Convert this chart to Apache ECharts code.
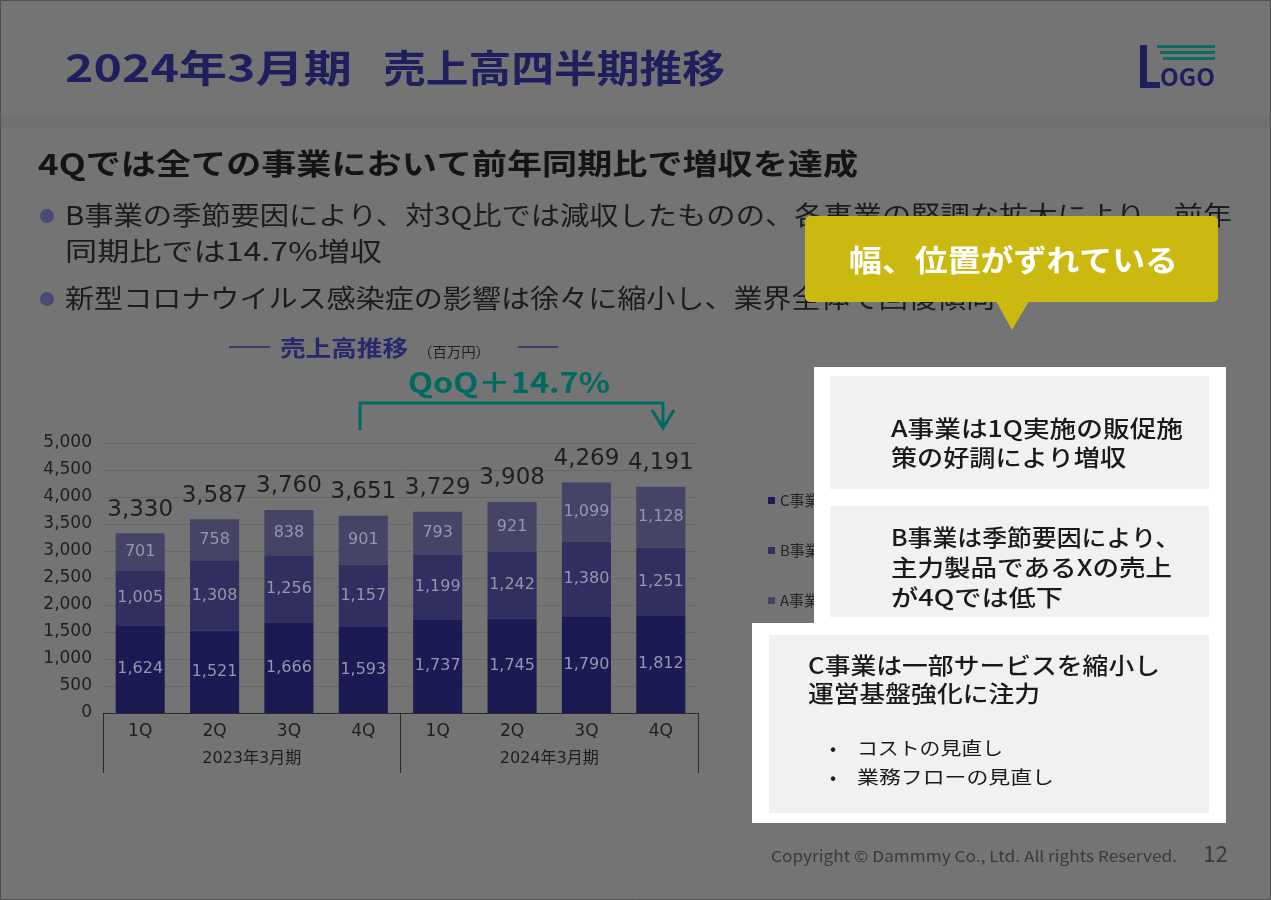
<!DOCTYPE html>
<html><head><meta charset="utf-8">
<script src="https://cdn.jsdelivr.net/npm/echarts@6/dist/echarts.min.js"></script>
<style>html,body{margin:0;padding:0;background:#747474}#c{width:1271px;height:900px}</style>
</head><body><div id="c"></div>
<script>
// ---- data ----
const quarters = ['1Q','2Q','3Q','4Q'];
const fiscalYears = ['2023年3月期','2024年3月期'];
const seriesNames = ['C事業','B事業','A事業'];
const cValues = [1624,1521,1666,1593,1737,1745,1790,1812];
const bValues = [1005,1308,1256,1157,1199,1242,1380,1251];
const aValues = [701,758,838,901,793,921,1099,1128];
const totals  = [3330,3587,3760,3651,3729,3908,4269,4191];
const qoqLabel = 'QoQ＋14.7%';

const categories = fiscalYears.flatMap(fy => quarters.map(q => fy + '|' + q));

const JP = '"Noto Sans CJK JP", sans-serif';
const NUM = '"DejaVu Sans", "Noto Sans CJK JP", sans-serif';
const fmt = v => Number(v).toLocaleString('en-US');

const ctx = document.createElement('canvas').getContext('2d');
function T(text, left, cy, size, fill, o = {}) {
  const weight = o.weight || 'normal', family = o.family || JP;
  ctx.font = `${weight} ${size}px ${family}`;
  const w = ctx.measureText(text).width;
  const sx = o.right ? (o.right - left) / w : (o.sx || 1);
  return {type:'text', x:left, y:cy, scaleX:sx, z:o.z || 5, silent:true,
    style:{text, fill, fontSize:size, fontWeight:weight, fontFamily:family,
           textAlign:'left', textVerticalAlign:'middle'}};
}
function R(x, y, w, h, fill, z, r) {
  return {type:'rect', shape:{x, y, width:w, height:h, r:r || 0}, style:{fill}, z:z || 1, silent:true};
}

const insideLabel = {show:true, position:'inside', color:'#9696ae', fontSize:16, fontFamily:NUM,
  formatter: p => fmt(p.value)};

const teal = '#006a62';
const graphics = [
  // header band
  R(0, 115, 1271, 13, '#707070', 0),
  // title
  T('2024年3月期', 65, 68, 38, '#1f1f5e', {weight:'bold', right:352}),
  T('売上高四半期推移', 383, 68, 38, '#1f1f5e', {weight:'bold', right:725}),
  // logo
  R(1157, 45, 58, 3, '#0d6b63', 3), R(1160, 51, 55, 3, '#0d6b63', 3), R(1163, 57, 52, 3, '#0d6b63', 3),
  R(1140, 45, 7, 43, '#1f1f5e', 3), R(1140, 82, 20, 6, '#1f1f5e', 3),
  T('OGO', 1160, 77, 24, '#1f1f5e', {weight:'bold', right:1215}),
  // subtitle + bullets
  T('4Qでは全ての事業において前年同期比で増収を達成', 38, 164, 29, '#141414', {weight:'bold', right:858}),
  {type:'circle', shape:{cx:47, cy:216, r:7}, style:{fill:'#4a4a76'}, z:5, silent:true},
  {type:'circle', shape:{cx:47, cy:299, r:7}, style:{fill:'#4a4a76'}, z:5, silent:true},
  T('B事業の季節要因により、対3Q比では減収したものの、各事業の堅調な拡大により、前年', 65, 215, 26, '#1c1c1c', {right:1232}),
  T('同期比では14.7%増収', 65, 251, 26, '#1c1c1c', {right:382}),
  T('新型コロナウイルス感染症の影響は徐々に縮小し、業界全体で回復傾向', 65, 298, 26, '#1c1c1c', {right:995}),
  // chart title
  {type:'line', shape:{x1:229, y1:347, x2:270, y2:347}, style:{stroke:'#2a2a6a', lineWidth:1.5}, z:5, silent:true},
  {type:'line', shape:{x1:518, y1:347, x2:558, y2:347}, style:{stroke:'#2a2a6a', lineWidth:1.5}, z:5, silent:true},
  T('売上高推移', 280, 348, 22, '#28286c', {weight:'bold', right:408}),
  T('（百万円）', 418, 352, 14, '#1e1e1e', {right:490}),
  // QoQ
  T(qoqLabel, 408, 382, 28, teal, {weight:'bold', right:610}),
  {type:'polyline', shape:{points:[[360,430],[360,403],[663,403],[663,426]]}, style:{stroke:teal, lineWidth:3, fill:null}, z:5, silent:true},
  {type:'polyline', shape:{points:[[652,410],[663,428],[674,410]]}, style:{stroke:teal, lineWidth:3, fill:null}, z:5, silent:true},
  // white panel
  R(814, 367, 412, 262, '#ffffff', 10),
  R(752, 623, 474, 200, '#ffffff', 10),
  R(830, 376, 379, 113, '#f1f1f1', 11),
  R(830, 506, 379, 111, '#f1f1f1', 11),
  R(769, 635, 440, 178, '#f1f1f1', 11),
  T('A事業は1Q実施の販促施', 891, 428, 23, '#1a1a1a', {weight:'500', right:1183, z:12}),
  T('策の好調により増収', 891, 457, 23, '#1a1a1a', {weight:'500', right:1126, z:12}),
  T('B事業は季節要因により、', 891, 537, 23, '#1a1a1a', {weight:'500', right:1180, z:12}),
  T('主力製品であるXの売上', 891, 567, 23, '#1a1a1a', {weight:'500', right:1172, z:12}),
  T('が4Qでは低下', 891, 597, 23, '#1a1a1a', {weight:'500', right:1063, z:12}),
  T('C事業は一部サービスを縮小し', 808, 665, 23, '#1a1a1a', {weight:'500', right:1160, z:12}),
  T('運営基盤強化に注力', 808, 693, 23, '#1a1a1a', {weight:'500', right:1040, z:12}),
  T('•', 830, 748, 18, '#1a1a1a', {z:12}),
  T('•', 830, 777, 18, '#1a1a1a', {z:12}),
  T('コストの見直し', 857, 748, 18, '#1a1a1a', {right:1003, z:12}),
  T('業務フローの見直し', 857, 777, 18, '#1a1a1a', {right:1054, z:12}),
  // callout
  R(805, 216, 413, 86, '#cbb90f', 20, 5),
  {type:'polygon', shape:{points:[[996,301],[1029,301],[1012,330]]}, style:{fill:'#cbb90f'}, z:20, silent:true},
  T('幅、位置がずれている', 849, 260, 30, '#ffffff', {weight:'bold', right:1178, z:21}),
  // footer
  T('Copyright © Dammmy Co., Ltd. All rights Reserved.', 771, 856, 15, '#3a3a3a', {right:1177}),
  T('12', 1203, 854, 22, '#3a3a3a', {right:1228}),
  // border
  {type:'rect', shape:{x:0.5, y:0.5, width:1270, height:899}, style:{fill:null, stroke:'#505050', lineWidth:1}, z:30, silent:true}
];

const chart = echarts.init(document.getElementById('c'), null, {renderer:'canvas'});
chart.setOption({
  backgroundColor:'#747474',
  animation:false,
  textStyle:{fontFamily:JP},
  grid:{left:103, right:573, top:443, bottom:187, containLabel:false},
  legend:{data:seriesNames, orient:'vertical', left:763, top:488, itemWidth:7, itemHeight:7, icon:'rect',
    itemGap:35, textStyle:{fontSize:15, color:'#262626', fontFamily:JP}},
  xAxis:[
    {type:'category', data:categories, position:'bottom',
     axisLine:{lineStyle:{color:'#2b2b2b', width:1}}, axisTick:{show:false},
     axisLabel:{formatter:v => v.split('|')[1], fontSize:17, color:'#1e1e1e', margin:10, fontFamily:NUM}},
    {type:'category', data:fiscalYears, position:'bottom',
     axisLine:{show:false}, axisTick:{show:true, length:60, lineStyle:{color:'#2b2b2b', width:1}},
     axisLabel:{fontSize:16, color:'#1e1e1e', margin:38, fontFamily:NUM}, splitLine:{show:false}}
  ],
  yAxis:{type:'value', min:0, max:5000, interval:500,
    axisLine:{show:false}, axisTick:{show:false},
    splitLine:{lineStyle:{color:'#676767', width:1}},
    axisLabel:{formatter:v => fmt(v), fontSize:17, color:'#1e1e1e', margin:11, fontFamily:NUM}},
  series:[
    {name:seriesNames[0], type:'bar', stack:'s', data:cValues, barWidth:'66%', itemStyle:{color:'#1c1a52'}, label:insideLabel},
    {name:seriesNames[1], type:'bar', stack:'s', data:bValues, barWidth:'66%', itemStyle:{color:'#302f60'}, label:insideLabel},
    {name:seriesNames[2], type:'bar', stack:'s', data:aValues, barWidth:'66%', itemStyle:{color:'#454467'}, label:insideLabel},
    {name:'合計', type:'scatter', data:totals, symbolSize:0, silent:true, z:5,
     label:{show:true, position:'top', distance:12, color:'#0a0a0a', fontSize:23, fontFamily:NUM, formatter:p => fmt(p.value)}}
  ],
  graphic:{elements:graphics}
});
</script></body></html>
